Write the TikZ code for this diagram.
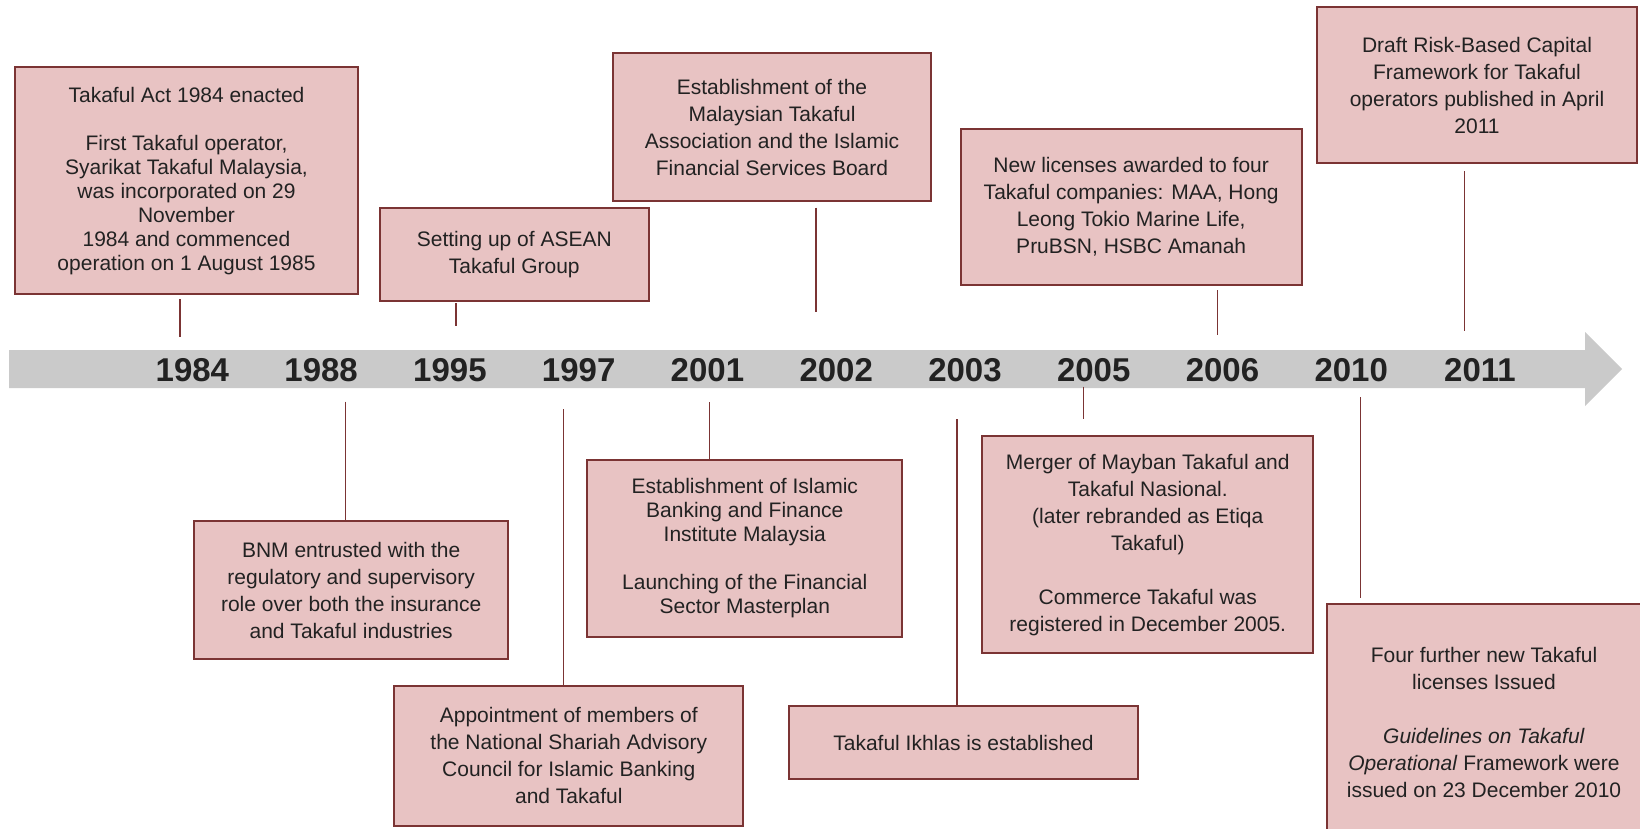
\documentclass[tikz,border=0pt]{standalone}
\usepackage{fontspec}
\setmainfont{Liberation Sans}
\usetikzlibrary{calc}

\definecolor{boxfill}{HTML}{E8C3C3}
\definecolor{boxline}{HTML}{7B3434}
\definecolor{bandgray}{HTML}{CACACA}
\definecolor{inkdark}{HTML}{222222}

\tikzset{
  event/.style={draw=boxline, line width=1pt, fill=boxfill, text=inkdark, align=center, inner sep=0pt, font=\fontsize{10.5}{13.5}\selectfont},
  tight/.style={font=\fontsize{10.5}{12}\selectfont},
  year/.style={text=inkdark, font=\fontsize{16.5}{18}\selectfont\bfseries},
  stem/.style={draw=boxline, line width=0.75pt},
}

\begin{document}
\begin{tikzpicture}[x=0.5pt, y=-0.5pt]
\useasboundingbox (0,0) rectangle (1640,829);
\clip (0,0) rectangle (1640,829);

% timeline arrow
\fill[bandgray] (9,350) -- (1585,350) -- (1585,332) -- (1622,369) -- (1585,406) -- (1585,388) -- (9,388) -- cycle;

\foreach \yr [count=\i from 0] in {1984,1988,1995,1997,2001,2002,2003,2005,2006,2010,2011}
  \node[year] (y\yr) at ({192.4+\i*128.76},370) {\yr};

% events above the line
\node[event, tight, minimum width=171.2pt, minimum height=113.3pt] (b1984) at (186.5,180.7)
  {Takaful Act 1984 enacted\\[12pt]
   First Takaful operator,\\ Syarikat Takaful Malaysia,\\ was incorporated on 29\\ November\\
   1984 and commenced\\ operation on 1 August 1985};
\node[event, minimum width=134.5pt, minimum height=46.5pt] (b1995) at (514.3,254.5)
  {Setting up of ASEAN\\ Takaful Group};
\node[event, minimum width=158.7pt, minimum height=73.8pt] (b2002) at (772,127.2)
  {Establishment of the\\ Malaysian Takaful\\ Association and the Islamic\\ Financial Services Board};
\node[event, minimum width=170.5pt, minimum height=77.8pt] (b2006) at (1131.2,206.9)
  {New licenses awarded to four\\ Takaful companies: MAA, Hong\\ Leong Tokio Marine Life,\\ PruBSN, HSBC Amanah};
\node[event, minimum width=159.7pt, minimum height=78pt] (b2011) at (1477,85.3)
  {Draft Risk-Based Capital\\ Framework for Takaful\\ operators published in April\\ 2011};

% events below the line
\node[event, minimum width=157.1pt, minimum height=69.2pt] (b1988) at (351.2,590.2)
  {BNM entrusted with the\\ regulatory and supervisory\\ role over both the insurance\\ and Takaful industries};
\node[event, minimum width=174.5pt, minimum height=70pt] (b1997) at (568.8,755.7)
  {Appointment of members of\\ the National Shariah Advisory\\ Council for Islamic Banking\\ and Takaful};
\node[event, tight, minimum width=157.5pt, minimum height=88.2pt] (b2001) at (744.8,548.5)
  {Establishment of Islamic\\ Banking and Finance\\ Institute Malaysia\\[12pt]
   Launching of the Financial\\ Sector Masterplan};
\node[event, minimum width=174.2pt, minimum height=36.8pt] (b2003) at (963.5,742.5)
  {Takaful Ikhlas is established};
\node[event, minimum width=165.5pt, minimum height=108.7pt] (b2005) at (1147.8,544.7)
  {Merger of Mayban Takaful and\\ Takaful Nasional.\\ (later rebranded as Etiqa\\ Takaful)\\[13.5pt]
   Commerce Takaful was\\ registered in December 2005.};
\node[event, minimum width=156.9pt, minimum height=118pt] (b2010) at (1484,722)
  {Four further new Takaful\\ licenses Issued\\[13.5pt]
   \textit{Guidelines on Takaful}\\ \textit{Operational} Framework were\\ issued on 23 December 2010};

% stem ends near the line
\coordinate (t1984) at (180,337.3);
\coordinate (t1995) at (456,326.3);
\coordinate (t2002) at (816,311.7);
\coordinate (t2006) at (1217.7,335);
\coordinate (t2011) at (1464.5,330.5);
\coordinate (t1988) at (345.7,401.7);
\coordinate (t1997) at (563.7,409);
\coordinate (t2001) at (709.3,402);
\coordinate (t2003) at (957,419.4);
\coordinate (t2005) at (1083.3,386.7);
\coordinate (t2010) at (1360.7,397.4);

\foreach \n/\g in {1984/2pt,1995/0.5pt,2002/2.8pt,2006/2.3pt,2011/3.5pt}
  \draw[stem, shorten <=\g] (b\n.south -| t\n) -- (t\n);
\foreach \n/\g in {1988/0pt,1997/0pt,2001/0pt,2003/0pt,2005/8pt,2010/2.3pt}
  \draw[stem, shorten >=\g] (t\n) -- (b\n.north -| t\n);
\end{tikzpicture}
\end{document}
